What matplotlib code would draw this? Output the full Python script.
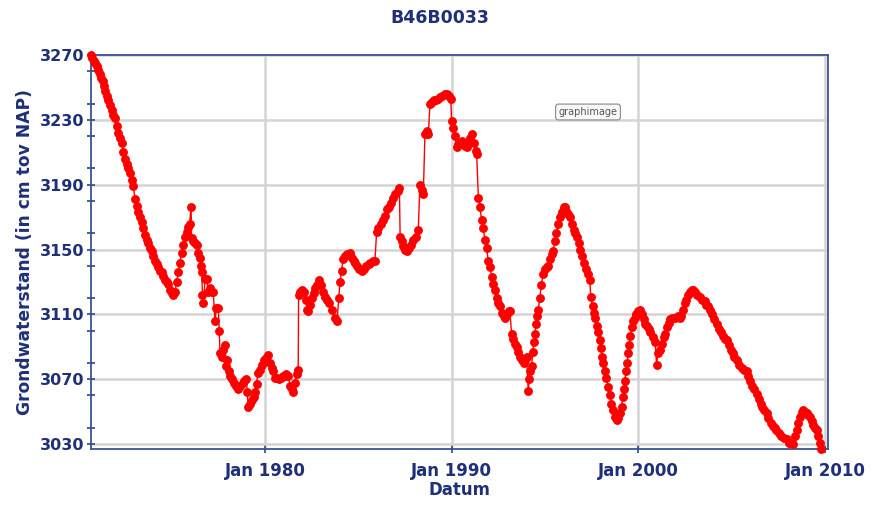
import matplotlib
matplotlib.use("Agg")
import matplotlib.pyplot as plt
from matplotlib.ticker import FixedLocator, MultipleLocator

# Groundwater level series for well B46B0033 (decimal year, cm relative to NAP)
years = [
    1970.70, 1970.75, 1970.82, 1970.90, 1970.98, 1971.07, 1971.14, 1971.22, 1971.30, 1971.38,
    1971.45, 1971.52, 1971.60, 1971.70, 1971.78, 1971.87, 1971.97, 1972.05, 1972.14, 1972.23,
    1972.32, 1972.41, 1972.50, 1972.59, 1972.68, 1972.77, 1972.86, 1972.95, 1973.04, 1973.12,
    1973.21, 1973.30, 1973.39, 1973.48, 1973.57, 1973.66, 1973.75, 1973.84, 1973.93, 1974.02,
    1974.10, 1974.19, 1974.28, 1974.37, 1974.46, 1974.55, 1974.64, 1974.73, 1974.82, 1974.91,
    1975.00, 1975.09, 1975.18, 1975.27, 1975.36, 1975.45, 1975.54, 1975.63, 1975.72, 1975.80,
    1975.89, 1975.96, 1976.04, 1976.07, 1976.15, 1976.25, 1976.34, 1976.43, 1976.52, 1976.58,
    1976.61, 1976.65, 1976.70, 1976.79, 1976.88, 1976.96, 1977.05, 1977.14, 1977.23, 1977.32,
    1977.40, 1977.50, 1977.55, 1977.59, 1977.68, 1977.77, 1977.86, 1977.90, 1977.95, 1978.05,
    1978.15, 1978.25, 1978.35, 1978.45, 1978.57, 1978.68, 1978.80, 1978.90, 1979.00, 1979.05,
    1979.10, 1979.20, 1979.30, 1979.40, 1979.46, 1979.55, 1979.62, 1979.73, 1979.85, 1979.95,
    1980.05, 1980.18, 1980.28, 1980.38, 1980.45, 1980.55, 1980.65, 1980.75, 1980.85, 1980.95,
    1981.05, 1981.15, 1981.25, 1981.35, 1981.45, 1981.52, 1981.60, 1981.70, 1981.78, 1981.80,
    1981.90, 1982.00, 1982.10, 1982.18, 1982.25, 1982.32, 1982.40, 1982.50, 1982.60, 1982.70,
    1982.80, 1982.90, 1983.00, 1983.10, 1983.20, 1983.30, 1983.45, 1983.60, 1983.75, 1983.86,
    1983.95, 1984.02, 1984.10, 1984.19, 1984.30, 1984.42, 1984.55, 1984.65, 1984.75, 1984.82,
    1984.92, 1985.05, 1985.18, 1985.30, 1985.42, 1985.55, 1985.65, 1985.78, 1985.89, 1985.98,
    1986.08, 1986.20, 1986.34, 1986.45, 1986.55, 1986.65, 1986.75, 1986.87, 1986.97, 1987.10,
    1987.20, 1987.24, 1987.32, 1987.42, 1987.52, 1987.60, 1987.70, 1987.80, 1987.95, 1988.08,
    1988.21, 1988.30, 1988.40, 1988.48, 1988.57, 1988.66, 1988.75, 1988.84, 1988.95, 1989.05,
    1989.15, 1989.28, 1989.40, 1989.50, 1989.62, 1989.73, 1989.85, 1989.95, 1990.00, 1990.08,
    1990.18, 1990.27, 1990.35, 1990.45, 1990.55, 1990.62, 1990.72, 1990.80, 1990.90, 1991.00,
    1991.07, 1991.18, 1991.28, 1991.34, 1991.43, 1991.52, 1991.60, 1991.70, 1991.78, 1991.87,
    1991.96, 1992.05, 1992.15, 1992.23, 1992.32, 1992.42, 1992.50, 1992.59, 1992.70, 1992.80,
    1992.86, 1992.95, 1993.05, 1993.12, 1993.21, 1993.30, 1993.40, 1993.48, 1993.57, 1993.66,
    1993.75, 1993.85, 1993.95, 1994.02, 1994.10, 1994.16, 1994.22, 1994.28, 1994.35, 1994.40,
    1994.46, 1994.52, 1994.58, 1994.64, 1994.72, 1994.80, 1994.90, 1995.00, 1995.10, 1995.17,
    1995.25, 1995.35, 1995.44, 1995.52, 1995.60, 1995.71, 1995.80, 1995.90, 1996.00, 1996.07,
    1996.15, 1996.25, 1996.34, 1996.45, 1996.55, 1996.62, 1996.70, 1996.80, 1996.90, 1997.00,
    1997.10, 1997.20, 1997.30, 1997.40, 1997.45, 1997.55, 1997.62, 1997.68, 1997.76, 1997.84,
    1997.94, 1998.00, 1998.06, 1998.12, 1998.20, 1998.28, 1998.39, 1998.48, 1998.56, 1998.66,
    1998.75, 1998.84, 1998.92, 1999.00, 1999.10, 1999.17, 1999.22, 1999.28, 1999.34, 1999.40,
    1999.46, 1999.52, 1999.58, 1999.64, 1999.72, 1999.80, 1999.90, 2000.00, 2000.08, 2000.18,
    2000.28, 2000.35, 2000.45, 2000.55, 2000.65, 2000.80, 2000.90, 2000.98, 2001.05, 2001.16,
    2001.25, 2001.35, 2001.43, 2001.52, 2001.62, 2001.72, 2001.80, 2001.95, 2002.10, 2002.22,
    2002.31, 2002.40, 2002.50, 2002.58, 2002.68, 2002.78, 2002.88, 2002.94, 2003.05, 2003.15,
    2003.30, 2003.42, 2003.55, 2003.65, 2003.74, 2003.85, 2003.95, 2004.05, 2004.19, 2004.30,
    2004.42, 2004.55, 2004.65, 2004.73, 2004.85, 2004.95, 2005.05, 2005.15, 2005.26, 2005.40,
    2005.55, 2005.68, 2005.80, 2005.90, 2006.00, 2006.10, 2006.22, 2006.34, 2006.45, 2006.55,
    2006.65, 2006.75, 2006.87, 2006.97, 2007.08, 2007.20, 2007.30, 2007.40, 2007.52, 2007.65,
    2007.80, 2007.94, 2008.05, 2008.15, 2008.30, 2008.40, 2008.48, 2008.56, 2008.65, 2008.75,
    2008.83, 2008.92, 2009.02, 2009.10, 2009.19, 2009.28, 2009.38, 2009.47, 2009.55, 2009.65,
    2009.72, 2009.80,
]

levels = [
    3270, 3268, 3266, 3265, 3263, 3261, 3258, 3256, 3254, 3251,
    3248, 3245, 3242, 3239, 3236, 3233, 3231, 3226, 3222, 3219,
    3216, 3210, 3206, 3203, 3200, 3197, 3193, 3189, 3181, 3177,
    3173, 3170, 3167, 3163, 3159, 3156, 3154, 3151, 3149, 3146,
    3143, 3141, 3139, 3137, 3136, 3134, 3131, 3130, 3129, 3125,
    3123, 3122, 3124, 3130, 3136, 3142, 3148, 3153, 3158, 3161,
    3164, 3166, 3176, 3157, 3155, 3154, 3153, 3148, 3145, 3140,
    3136, 3122, 3117, 3132, 3132, 3124, 3126, 3124, 3124, 3106,
    3114, 3114, 3100, 3086, 3084, 3088, 3091, 3078, 3082, 3075,
    3072, 3070, 3068, 3066, 3064, 3066, 3068, 3069, 3070, 3062,
    3053, 3055, 3057, 3059, 3062, 3067, 3074, 3076, 3079, 3082,
    3083, 3085, 3080, 3077, 3075, 3071, 3071, 3070, 3071, 3072,
    3072, 3073, 3072, 3066, 3064, 3062, 3068, 3073, 3076, 3122,
    3124, 3125, 3124, 3119, 3113, 3112, 3116, 3120, 3123, 3126,
    3128, 3131, 3128, 3124, 3121, 3119, 3117, 3113, 3108, 3106,
    3120, 3130, 3137, 3144, 3146, 3147, 3148, 3145, 3143, 3142,
    3140, 3138, 3137, 3138, 3140, 3141, 3142, 3143, 3143, 3161,
    3163, 3166, 3168, 3171, 3175, 3176, 3179, 3182, 3184, 3186,
    3188, 3158, 3155, 3152, 3150, 3149, 3151, 3153, 3156, 3158,
    3162, 3190, 3187, 3184, 3221, 3223, 3221, 3240, 3241, 3242,
    3242, 3243, 3244, 3245, 3246, 3246, 3245, 3243, 3229, 3225,
    3220, 3213, 3215, 3216, 3217, 3216, 3214, 3213, 3216, 3219,
    3221, 3216, 3211, 3209, 3182, 3176, 3168, 3163, 3156, 3151,
    3143, 3139, 3133, 3129, 3125, 3120, 3117, 3115, 3111, 3109,
    3108, 3110, 3112, 3112, 3098, 3095, 3092, 3090, 3087, 3084,
    3082, 3080, 3082, 3084, 3063, 3070, 3075, 3078, 3087, 3093,
    3098, 3104, 3109, 3113, 3120, 3128, 3135, 3138, 3139, 3140,
    3144, 3147, 3149, 3155, 3160, 3166, 3170, 3173, 3176, 3176,
    3174, 3172, 3170, 3166, 3162, 3160, 3158, 3154, 3150, 3146,
    3142, 3138, 3135, 3131, 3121, 3115, 3111, 3108, 3103, 3099,
    3094, 3089, 3084, 3080, 3075, 3071, 3065, 3060, 3055, 3051,
    3047, 3045, 3046, 3049, 3053, 3059, 3064, 3069, 3075, 3080,
    3086, 3091, 3097, 3102, 3106, 3108, 3110, 3112, 3113, 3110,
    3107, 3104, 3103, 3101, 3099, 3096, 3093, 3079, 3086, 3088,
    3092, 3096, 3098, 3102, 3105, 3107, 3108, 3108, 3109, 3108,
    3109, 3113, 3117, 3119, 3122, 3124, 3125, 3125, 3124, 3122,
    3121, 3119, 3118, 3116, 3115, 3113, 3110, 3107, 3104, 3101,
    3099, 3097, 3095, 3094, 3091, 3088, 3086, 3084, 3082, 3079,
    3077, 3076, 3075, 3072, 3069, 3066, 3064, 3061, 3058, 3055,
    3053, 3051, 3049, 3046, 3043, 3041, 3040, 3039, 3037, 3035,
    3034, 3033, 3031, 3031, 3030, 3035, 3039, 3043, 3047, 3050,
    3051, 3050, 3049, 3048, 3047, 3044, 3042, 3040, 3039, 3035,
    3031, 3027,
]

y_ticks = [3030, 3070, 3110, 3150, 3190, 3230, 3270]
x_ticks = [1980, 1990, 2000, 2010]
x_tick_labels = ["Jan 1980", "Jan 1990", "Jan 2000", "Jan 2010"]

title = "B46B0033"
x_label = "Datum"
y_label = "Grondwaterstand (in cm tov NAP)"

navy = "#1f2f78"
spine_col = "#3a5391"
grid_col = "#d4d4d4"
red = "#ff0000"

plt.rcParams["font.family"] = ["DejaVu Sans"]

fig = plt.figure(figsize=(8.73, 5.05), dpi=100)
ax = fig.add_axes([91 / 873, 1 - 449 / 505, (828 - 91) / 873, (449 - 55) / 505])

ax.plot(years, levels, color=red, linewidth=1.0, marker="o", markersize=6.4,
        markeredgewidth=0, clip_on=False, zorder=3)

ax.set_xlim(1970.68, 2010.16)
ax.set_ylim(3027, 3270)

ax.xaxis.set_major_locator(FixedLocator(x_ticks))
ax.set_xticklabels(x_tick_labels)
ax.yaxis.set_major_locator(FixedLocator(y_ticks))
ax.yaxis.set_minor_locator(MultipleLocator(20))

ax.grid(True, which="major", color=grid_col, linewidth=1.8, zorder=0)
ax.set_axisbelow(True)

for s in ax.spines.values():
    s.set_color(spine_col)
    s.set_linewidth(1.3)

ax.tick_params(axis="both", which="major", colors=spine_col, labelcolor=navy,
               direction="inout", length=6, width=1.3, labelsize=11.5)
ax.tick_params(axis="y", which="minor", colors=spine_col, direction="inout",
               length=6, width=1.3)
ax.tick_params(axis="x", which="major", pad=6, labelsize=12)
ax.tick_params(axis="y", which="major", pad=2)
for lab in ax.get_xticklabels() + ax.get_yticklabels():
    lab.set_fontweight("bold")

ax.set_xlabel(x_label, color=navy, fontsize=12, fontweight="bold", labelpad=1)
ax.set_ylabel(y_label, color=navy, fontsize=12.3, fontweight="bold", labelpad=4)
fig.text(440 / 873, 1 - 18 / 505, title, color=navy, fontsize=12.5, fontweight="bold",
         ha="center", va="center")

# browser tooltip overlay
fig.text(588 / 873, 1 - 112 / 505, "graphimage", color="#555555", fontsize=7,
         ha="center", va="center",
         bbox=dict(boxstyle="round,pad=0.3", facecolor="#f8f8f8",
                   edgecolor="#888888", linewidth=0.8))

fig.savefig("out.png", dpi=100)
